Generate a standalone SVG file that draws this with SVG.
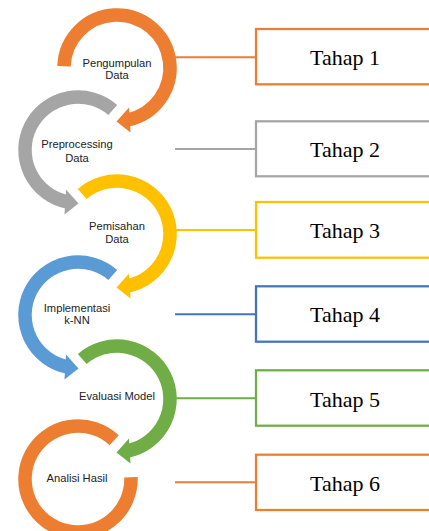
<svg xmlns="http://www.w3.org/2000/svg" xmlns:xlink="http://www.w3.org/1999/xlink" width="429" height="531" viewBox="0 0 429 531">
<style>
.ring{fill:none;stroke-width:13.5;stroke-linecap:butt}
.lbl{font-family:"Liberation Sans",Arial,sans-serif;font-size:11.2px;fill:#222;text-anchor:middle}
.box{fill:#fff;stroke-width:2.25}
.tt{font-family:"Liberation Serif","Times New Roman",serif;font-size:22px;fill:#000;text-anchor:middle}
.con{stroke-width:2;fill:none}
.or{stroke:#ED7D31}.gr{stroke:#A5A5A5}.ye{stroke:#FFC000}.bl{stroke:#5B9BD5}.gn{stroke:#70AD47}.db{stroke:#4472C4}
</style>
<defs>
<path id="ring1" d="M -52.97 -1.85 A 53 53 0 1 1 11.02 51.84"/>
<path id="ringA" d="M -34.77 -40.0 A 53 53 0 1 1 11.02 51.84"/>
<polygon id="head" points="12,39.5 13.5,64.5 -0.5,53.5"/>
</defs>
<rect width="429" height="531" fill="#fff"/>
<g id="connectors">
<line class="con or" x1="175" y1="57.3" x2="256" y2="57.3"/>
<line class="con gr" x1="175" y1="149" x2="256" y2="149"/>
<line class="con ye" x1="175" y1="230" x2="256" y2="230"/>
<line class="con db" x1="175" y1="314.3" x2="256" y2="314.3"/>
<line class="con gn" x1="175" y1="398.3" x2="256" y2="398.3"/>
<line class="con or" x1="175" y1="482.3" x2="256" y2="482.3"/>
</g>
<g id="step1">
<g transform="translate(117,68)">
<use xlink:href="#ring1" href="#ring1" class="ring or"/>
<use xlink:href="#head" href="#head" fill="#ED7D31"/>
</g>
<text class="lbl" x="117" y="66.7">Pengumpulan</text>
<text class="lbl" x="117" y="79.3">Data</text>
</g>
<g id="step2">
<g transform="translate(78,150) scale(-1,1)">
<use xlink:href="#ringA" href="#ringA" class="ring gr"/>
<use xlink:href="#head" href="#head" fill="#A5A5A5"/>
</g>
<text class="lbl" x="77" y="148.3">Preprocessing</text>
<text class="lbl" x="77" y="161.7">Data</text>
</g>
<g id="step3">
<g transform="translate(117,234)">
<use xlink:href="#ringA" href="#ringA" class="ring ye"/>
<use xlink:href="#head" href="#head" fill="#FFC000"/>
</g>
<text class="lbl" x="117" y="230">Pemisahan</text>
<text class="lbl" x="117" y="243.3">Data</text>
</g>
<g id="step4">
<g transform="translate(78,315) scale(-1,1)">
<use xlink:href="#ringA" href="#ringA" class="ring bl"/>
<use xlink:href="#head" href="#head" fill="#5B9BD5"/>
</g>
<text class="lbl" x="77" y="311.7">Implementasi</text>
<text class="lbl" x="77" y="324">k-NN</text>
</g>
<g id="step5">
<g transform="translate(117,399)">
<use xlink:href="#ringA" href="#ringA" class="ring gn"/>
<use xlink:href="#head" href="#head" fill="#70AD47"/>
</g>
<text class="lbl" x="117" y="400">Evaluasi Model</text>
</g>
<g id="step6">
<g transform="translate(78,479)">
<path class="ring or" d="M 36.15 -38.76 A 53 53 0 1 0 52.97 -1.85"/>
</g>
<text class="lbl" x="77" y="481.7">Analisi Hasil</text>
</g>
<g id="box1"><rect class="box or" x="256" y="29" width="180" height="55.3"/><text class="tt" x="345" y="65">Tahap 1</text></g>
<g id="box2"><rect class="box gr" x="256" y="121.3" width="180" height="55"/><text class="tt" x="345" y="157">Tahap 2</text></g>
<g id="box3"><rect class="box ye" x="256" y="202" width="180" height="55.7"/><text class="tt" x="345" y="238">Tahap 3</text></g>
<g id="box4"><rect class="box db" x="256" y="286.3" width="180" height="55.4"/><text class="tt" x="345" y="322">Tahap 4</text></g>
<g id="box5"><rect class="box gn" x="256" y="370.3" width="180" height="55.4"/><text class="tt" x="345" y="406.5">Tahap 5</text></g>
<g id="box6"><rect class="box or" x="256" y="454.7" width="180" height="55.3"/><text class="tt" x="345" y="490.7">Tahap 6</text></g>
</svg>
